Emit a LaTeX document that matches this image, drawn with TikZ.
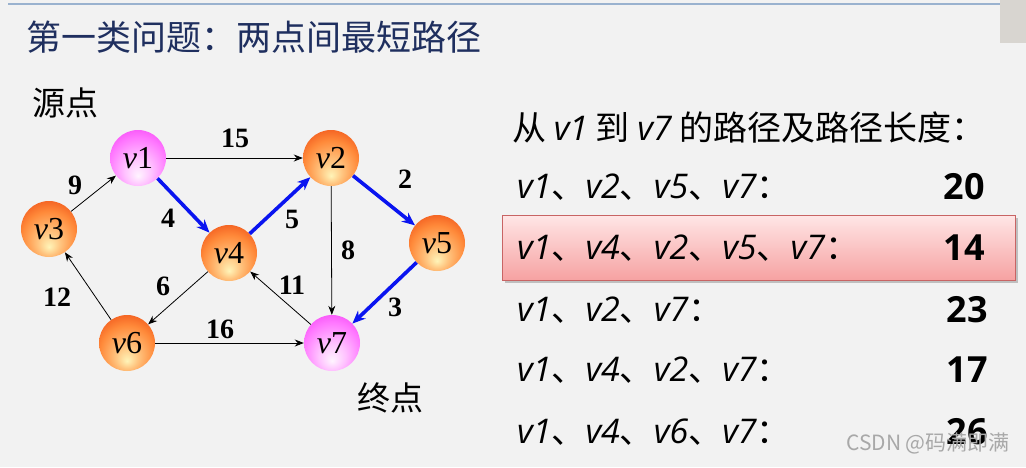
\documentclass[tikz,border=0pt]{standalone}
\usepackage{fontspec}
\setmainfont{Liberation Serif}
\newfontfamily\cjk{Noto Sans CJK SC}
\newfontfamily\latf{Open Sans}
\usetikzlibrary{arrows.meta}
\definecolor{bgc}{HTML}{F2F2F2}
\definecolor{titlec}{HTML}{1F2F5F}
\definecolor{linec}{HTML}{9AB2CF}
\definecolor{boxgray}{HTML}{D8D5D0}
\definecolor{orin}{HTML}{FFF4B8}
\definecolor{ormid}{HTML}{FF8A3A}
\definecolor{orout}{HTML}{EC4410}
\definecolor{orrim}{HTML}{E03C0C}
\definecolor{mgin}{HTML}{FFF4FF}
\definecolor{mgmid}{HTML}{FF78FF}
\definecolor{mgout}{HTML}{F030F0}
\definecolor{pathblue}{HTML}{0A14F0}
\definecolor{hltop}{HTML}{FFE6E6}
\definecolor{hlbot}{HTML}{F6A2A2}
\definecolor{hlborder}{HTML}{C86464}
\definecolor{wmc}{HTML}{A8A8A8}
\pgfdeclareradialshading{orangeball}{\pgfpoint{0bp}{-16bp}}{color(0bp)=(orin); color(10bp)=(ormid!45!orin); color(24bp)=(ormid); color(38bp)=(orout); color(50bp)=(orrim)}
\pgfdeclareradialshading{magentaball}{\pgfpoint{0bp}{-16bp}}{color(0bp)=(mgin); color(12bp)=(mgmid!45!white); color(26bp)=(mgmid); color(40bp)=(mgout); color(50bp)=(mgout)}
\tikzset{
  vtx/.style={circle, minimum size=56pt, inner sep=0pt, shading=orangeball, font=\fontsize{32}{32}\selectfont},
  vtxm/.style={vtx, shading=magentaball},
  edge/.style={draw=black, line width=0.8pt, -{Stealth[length=9pt,width=7pt]}},
  bedge/.style={draw=pathblue, line width=3.6pt, -{Stealth[length=13pt,width=11pt]}},
  wlab/.style={font=\fontsize{28}{28}\selectfont\bfseries, inner sep=0pt},
  cjkt/.style={font=\cjk\fontsize{33}{33}\selectfont, inner sep=0pt},
  rowt/.style={font=\cjk\fontsize{34}{34}\selectfont, inner sep=0pt, anchor=west},
  numt/.style={font=\latf\bfseries\fontsize{36}{36}\selectfont, inner sep=0pt, anchor=east},
}
\newcommand{\vv}[1]{{\latf\itshape v#1}}
\begin{document}
\begin{tikzpicture}[x=1pt,y=-1pt]
\useasboundingbox (0,0) rectangle (1026,467);
\fill[bgc] (0,0) rectangle (1026,467);
% top decorations
\fill[boxgray] (1000,0) rectangle (1026,43);
\draw[linec, line width=2pt] (8,4) -- (1000,4);
% title
\node[anchor=west, inner sep=0pt, text=titlec, font=\cjk\fontsize{35}{35}\selectfont] (title) at (26,37) {第一类问题：两点间最短路径};
\node[cjkt] (src) at (65,103) {源点};
\node[cjkt] (dst) at (390,398) {终点};
% vertices
\node[vtxm] (v1) at (138,158) {\textit{v}1};
\node[vtx]  (v2) at (331,158) {\textit{v}2};
\node[vtx]  (v3) at (49,229) {\textit{v}3};
\node[vtx]  (v4) at (229,253) {\textit{v}4};
\node[vtx]  (v5) at (437,243) {\textit{v}5};
\node[vtx]  (v6) at (127,343) {\textit{v}6};
\node[vtxm] (v7) at (332,343) {\textit{v}7};
% edges
\draw[edge] (v3) -- (v1);
\draw[edge] (v1) -- (v2);
\draw[edge] (v2) -- (v7);
\draw[edge] (v7) -- (v4);
\draw[edge] (v4) -- (v6);
\draw[edge] (v6) -- (v7);
\draw[edge] (v6) -- (v3);
\draw[bedge] (v1) -- (v4);
\draw[bedge] (v4) -- (v2);
\draw[bedge] (v2) -- (v5);
\draw[bedge] (v5) -- (v7);
% weights
\node[wlab] (w15) at (235,138) {15};
\node[wlab] (w9)  at (75,185) {9};
\node[wlab] (w4)  at (168,218) {4};
\node[wlab] (w5)  at (292,219) {5};
\node[wlab] (w2)  at (405,179) {2};
\node[wlab] (w8)  at (348,250) {8};
\node[wlab] (w12) at (57,297) {12};
\node[wlab] (w6)  at (163,286) {6};
\node[wlab] (w11) at (292,285) {11};
\node[wlab] (w3)  at (395,307) {3};
\node[wlab] (w16) at (220,329) {16};
% right side
\fill[black!25] (505,218) rectangle (1018,283);
\shade[top color=hltop, bottom color=hlbot, draw=hlborder, line width=0.8pt] (502,215) rectangle (1015,280);
\node[rowt] (head) at (512,127) {从 \vv{1} 到 \vv{7} 的路径及路径长度：};
\node[rowt] (r1) at (517,187) {\vv{1}、\vv{2}、\vv{5}、\vv{7}：};
\node[rowt] (r2) at (517,248) {\vv{1}、\vv{4}、\vv{2}、\vv{5}、\vv{7}：};
\node[rowt] (r3) at (517,310) {\vv{1}、\vv{2}、\vv{7}：};
\node[rowt] (r4) at (517,370) {\vv{1}、\vv{4}、\vv{2}、\vv{7}：};
\node[rowt] (r5) at (517,432) {\vv{1}、\vv{4}、\vv{6}、\vv{7}：};
\node[numt] (n1) at (985,187) {20};
\node[numt] (n2) at (985,248) {14};
\node[numt] (n3) at (988,310) {23};
\node[numt] (n4) at (988,370) {17};
\node[numt] (n5) at (988,432) {26};
\node[anchor=east, inner sep=0pt, text=wmc, font=\cjk\fontsize{21}{21}\selectfont] (wm) at (1010,443) {CSDN @码满即满};
\end{tikzpicture}
\end{document}
